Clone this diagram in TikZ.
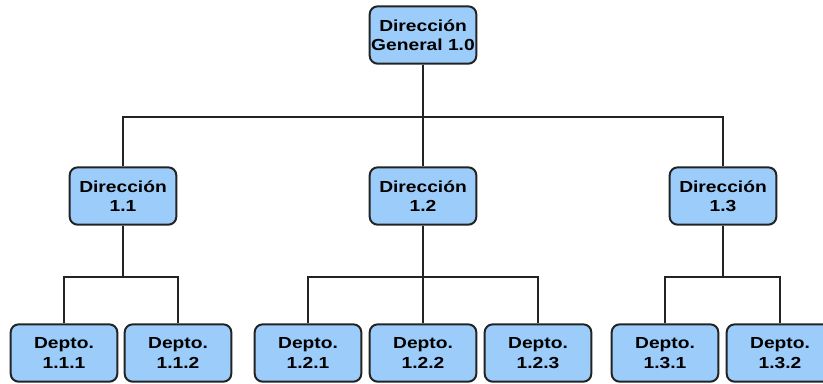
\documentclass[tikz,border=0pt]{standalone}
\usepackage{fontspec}
\setmainfont{Liberation Sans}[FakeStretch=1.2]
\usepackage{tikz}
\usetikzlibrary{positioning}
\definecolor{boxblue}{RGB}{155,204,250}
\definecolor{boxline}{RGB}{35,35,35}
\tikzset{
  unit/.style={draw=boxline, fill=boxblue, line width=1.5pt, rounded corners=6pt,
    minimum width=80pt, minimum height=43pt, align=center, inner sep=0pt,
    font=\fontsize{12}{14.5}\selectfont\bfseries},
  link/.style={draw=boxline, line width=1.2pt}
}
\begin{document}
\begin{tikzpicture}[x=0.75pt, y=-0.75pt]
\useasboundingbox (0,0) rectangle (823,383);
%\draw[step=10,gray,very thin] (0,0) grid (823,383);
\node[unit] (dg) at (423,35) {Dirección\\General 1.0};%%
\node[unit] (d1) at (123,196) {Dirección\\1.1};%%
\node[unit] (d2) at (423,196) {Dirección\\1.2};%%
\node[unit] (d3) at (723,196) {Dirección\\1.3};%%
\node[unit] (p11) at (64,353) {Depto.\\1.1.1};%%
\node[unit] (p12) at (178,353) {Depto.\\1.1.2};%%
\node[unit] (p21) at (308,353) {Depto.\\1.2.1};%%
\node[unit] (p22) at (423,353) {Depto.\\1.2.2};%%
\node[unit] (p23) at (538,353) {Depto.\\1.2.3};%%
\node[unit] (p31) at (665,353) {Depto.\\1.3.1};%%
\node[unit] (p32) at (780,353) {Depto.\\1.3.2};%%
\coordinate (bus0) at (0,117);%%
\coordinate (bus1) at (0,277);%%
\foreach \d in {d1,d2,d3}
  \draw[link] (dg.south) -- (dg.south |- bus0) -| (\d.north);%%
\foreach \p in {p11,p12}
  \draw[link] (d1.south) -- (d1.south |- bus1) -| (\p.north);%%
\foreach \p in {p21,p22,p23}
  \draw[link] (d2.south) -- (d2.south |- bus1) -| (\p.north);%%
\foreach \p in {p31,p32}
  \draw[link] (d3.south) -- (d3.south |- bus1) -| (\p.north);%%
\end{tikzpicture}
\end{document}
